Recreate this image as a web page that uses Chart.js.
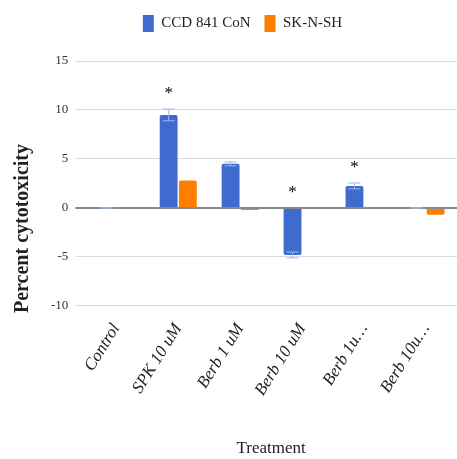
<!DOCTYPE html>
<html>
<head>
<meta charset="utf-8">
<script src="https://cdn.jsdelivr.net/npm/chart.js@4"></script>
<style>
  html, body { margin: 0; padding: 0; background: #fff; overflow: hidden; }
  #wrap { width: 457px; height: 459px; }
</style>
</head>
<body>
<div id="wrap"><canvas id="grafikon"></canvas></div>
<script>
const kezelesek = ["Control", "SPK 10 uM", "Berb 1 uM", "Berb 10 uM", "Berb 1u\u2026", "Berb 10u\u2026"];
const ccdErtekek = [0, 9.5, 4.5, -4.8, 2.25, 0];
const ccdHiba = [0, 0.6, 0.2, 0.3, 0.3, 0];
const sknshErtekek = [0, 2.8, -0.2, 0, 0, -0.7];
const csillagok = [false, true, false, true, true, false];
const yTickek = [-10, -5, 0, 5, 10, 15];
const yCim = "Percent cytotoxicity";

const kek = "#3f6bce";
const narancs = "#ff7d00";
const betu = "'Liberation Serif', 'DejaVu Serif', serif";

// hibasavok + csillagok a kek oszlopokra
const hibaPlugin = {
  id: "hibasav",
  afterDatasetsDraw(chart) {
    const ctx = chart.ctx;
    const meta = chart.getDatasetMeta(0);
    const y = chart.scales.y;
    ctx.save();
    meta.data.forEach((bar, i) => {
      const v = ccdErtekek[i];
      const e = ccdHiba[i];
      const y1 = y.getPixelForValue(v + e);
      const y2 = y.getPixelForValue(v - e);
      ctx.strokeStyle = "#9db8ee";
      ctx.lineWidth = 1;
      ctx.beginPath();
      ctx.moveTo(bar.x, y1); ctx.lineTo(bar.x, y2);
      ctx.moveTo(bar.x - 6, y1); ctx.lineTo(bar.x + 6, y1);
      ctx.moveTo(bar.x - 6, y2); ctx.lineTo(bar.x + 6, y2);
      ctx.stroke();
      if (csillagok[i]) {
        const felso = y.getPixelForValue(Math.max(v + e, 0));
        ctx.fillStyle = "#000";
        ctx.font = "17px " + betu;
        ctx.textAlign = "center";
        ctx.textBaseline = "middle";
        ctx.fillText("*", bar.x, felso - 15);
      }
    });
    ctx.restore();
  }
};

// jelmagyarazat: tobb hely alatta, kicsit jobbra tolva
const jelmagyarazatPlugin = {
  id: "jelmagyarazatHely",
  beforeInit(chart) {
    const fit = chart.legend.fit;
    chart.legend.fit = function () {
      fit.bind(chart.legend)();
      this.height += 19;
    };
  },
  afterLayout(chart) {
    chart.legend.left += 22;
  }
};

// y tengely cime a kep kozepere igazitva
const yCimPlugin = {
  id: "yCim",
  afterDraw(chart) {
    const ctx = chart.ctx;
    ctx.save();
    ctx.translate(23, chart.height / 2 - 1);
    ctx.rotate(-Math.PI / 2);
    ctx.fillStyle = "#222";
    ctx.font = "bold 20px " + betu;
    ctx.textAlign = "center";
    ctx.textBaseline = "middle";
    ctx.fillText(yCim, 0, 0);
    ctx.restore();
  }
};

new Chart(document.getElementById("grafikon"), {
  type: "bar",
  data: {
    labels: kezelesek,
    datasets: [
      { label: "CCD 841 CoN", data: ccdErtekek, backgroundColor: kek, borderRadius: 2 },
      { label: "SK-N-SH", data: sknshErtekek, backgroundColor: narancs, borderRadius: 2 }
    ]
  },
  options: {
    responsive: true,
    maintainAspectRatio: false,
    animation: false,
    datasets: { bar: { categoryPercentage: 0.62, barPercentage: 0.93 } },
    layout: { padding: { top: 1, right: 0, bottom: 0, left: 6 } },
    plugins: {
      tooltip: { enabled: false },
      legend: {
        position: "top",
        labels: {
          font: { family: betu, size: 15 },
          color: "#222",
          boxWidth: 11,
          boxHeight: 17,
          padding: 14
        }
      }
    },
    scales: {
      x: {
        grid: { display: false },
        border: { display: false },
        ticks: {
          minRotation: 58,
          maxRotation: 58,
          autoSkip: false,
          padding: 6,
          color: "#222",
          font: { family: betu, size: 17, style: "italic" }
        },
        title: {
          display: true,
          text: "Treatment",
          color: "#222",
          font: { family: betu, size: 17 },
          padding: { top: 33, bottom: 0 }
        }
      },
      y: {
        min: -10,
        max: 15,
        afterBuildTicks: (ax) => { ax.ticks = yTickek.map(v => ({ value: v })); },
        border: { display: false },
        grid: {
          drawTicks: true,
          tickLength: 10,
          color: (c) => c.tick && c.tick.value === 0 ? "#8a8a8a" : "#dcdcdc",
          lineWidth: (c) => c.tick && c.tick.value === 0 ? 2 : 1
        },
        ticks: {
          color: "#333",
          padding: 7,
          font: { family: betu, size: 13 }
        },
        title: {
          display: true,
          text: yCim,
          color: "rgba(0,0,0,0)",
          font: { family: betu, size: 20, weight: "bold" },
          padding: { bottom: 10 }
        }
      }
    }
  },
  plugins: [hibaPlugin, jelmagyarazatPlugin, yCimPlugin]
});
</script>
</body>
</html>
